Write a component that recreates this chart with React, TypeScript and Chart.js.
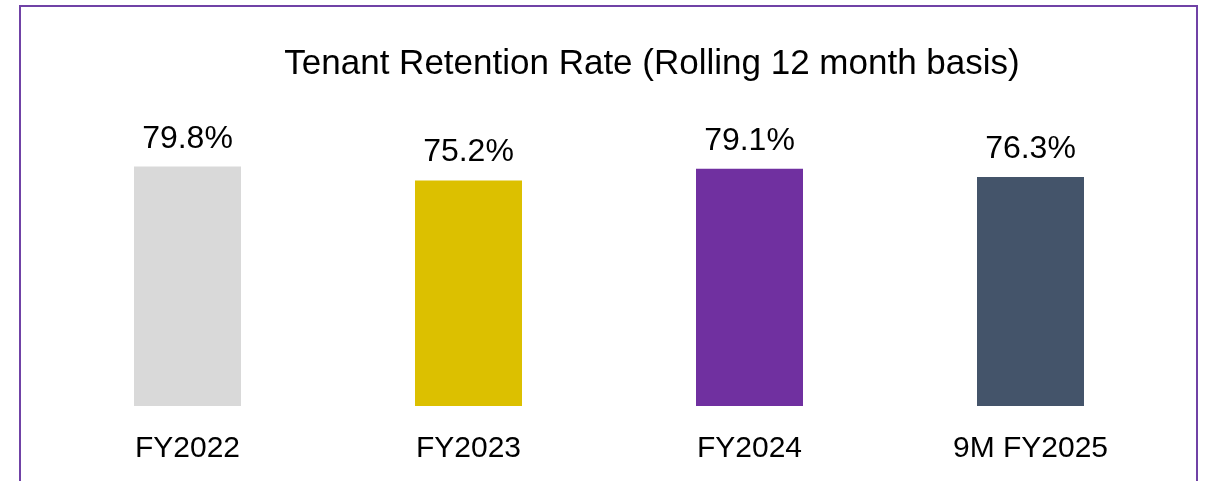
import React, { useEffect, useRef } from "react";
import { Chart, registerables } from "chart.js";

Chart.register(...registerables);

const categories: string[] = ["FY2022", "FY2023", "FY2024", "9M FY2025"];
const retentionRates: number[] = [79.8, 75.2, 79.1, 76.3];
const barColors: string[] = ["#D9D9D9", "#DCC000", "#7030A0", "#44546A"];
const chartTitle = "Tenant Retention Rate (Rolling 12 month basis)";

const FONT = '"Liberation Sans", Arial, Helvetica, sans-serif';

export default function App() {
  const canvasRef = useRef<HTMLCanvasElement | null>(null);

  useEffect(() => {
    document.body.style.margin = "0";
    const canvas = canvasRef.current;
    if (!canvas) return;

    const valueLabels = {
      id: "valueLabels",
      afterDatasetsDraw(chart: any) {
        const ctx = chart.ctx;
        const meta = chart.getDatasetMeta(0);
        const data = chart.data.datasets[0].data as number[];
        ctx.save();
        ctx.font = `32px ${FONT}`;
        ctx.fillStyle = "#000000";
        ctx.textAlign = "center";
        ctx.textBaseline = "alphabetic";
        meta.data.forEach((bar: any, i: number) => {
          ctx.fillText(`${data[i].toFixed(1)}%`, bar.x, bar.y - 19);
        });
        ctx.restore();
      },
    };

    const titlePlugin = {
      id: "customTitle",
      afterDraw(chart: any) {
        const ctx = chart.ctx;
        ctx.save();
        ctx.font = `35px ${FONT}`;
        ctx.fillStyle = "#000000";
        ctx.textAlign = "center";
        ctx.textBaseline = "alphabetic";
        ctx.fillText(chartTitle, 652, 74);
        ctx.restore();
      },
    };

    const chart = new Chart(canvas, {
      type: "bar",
      data: {
        labels: categories,
        datasets: [
          {
            data: retentionRates,
            backgroundColor: barColors,
            borderWidth: 0,
            barPercentage: 1,
            categoryPercentage: 107 / 281,
          },
        ],
      },
      options: {
        responsive: false,
        animation: false,
        layout: { padding: { top: 106, left: 47, right: 35, bottom: 0 } },
        plugins: {
          legend: { display: false },
          title: { display: false },
          tooltip: { enabled: false },
        },
        scales: {
          x: {
            grid: { display: false, drawTicks: false },
            border: { display: false },
            ticks: {
              color: "#000000",
              font: { family: FONT, size: 30 },
              padding: 25,
              maxRotation: 0,
              autoSkip: false,
            },
            afterFit: (scale: any) => {
              scale.height = 75;
            },
          },
          y: {
            display: false,
            min: 0,
            max: 100,
          },
        },
      },
      plugins: [valueLabels, titlePlugin],
    });

    return () => chart.destroy();
  }, []);

  return (
    <div
      style={{
        position: "relative",
        width: 1206,
        height: 481,
        overflow: "hidden",
        background: "#ffffff",
      }}
    >
      <div
        style={{
          position: "absolute",
          left: 19,
          top: 5,
          width: 1179,
          height: 600,
          boxSizing: "border-box",
          border: "2px solid #7042A6",
        }}
      />
      <canvas
        ref={canvasRef}
        width={1206}
        height={481}
        style={{ position: "absolute", left: 0, top: 0, width: 1206, height: 481 }}
      />
    </div>
  );
}
